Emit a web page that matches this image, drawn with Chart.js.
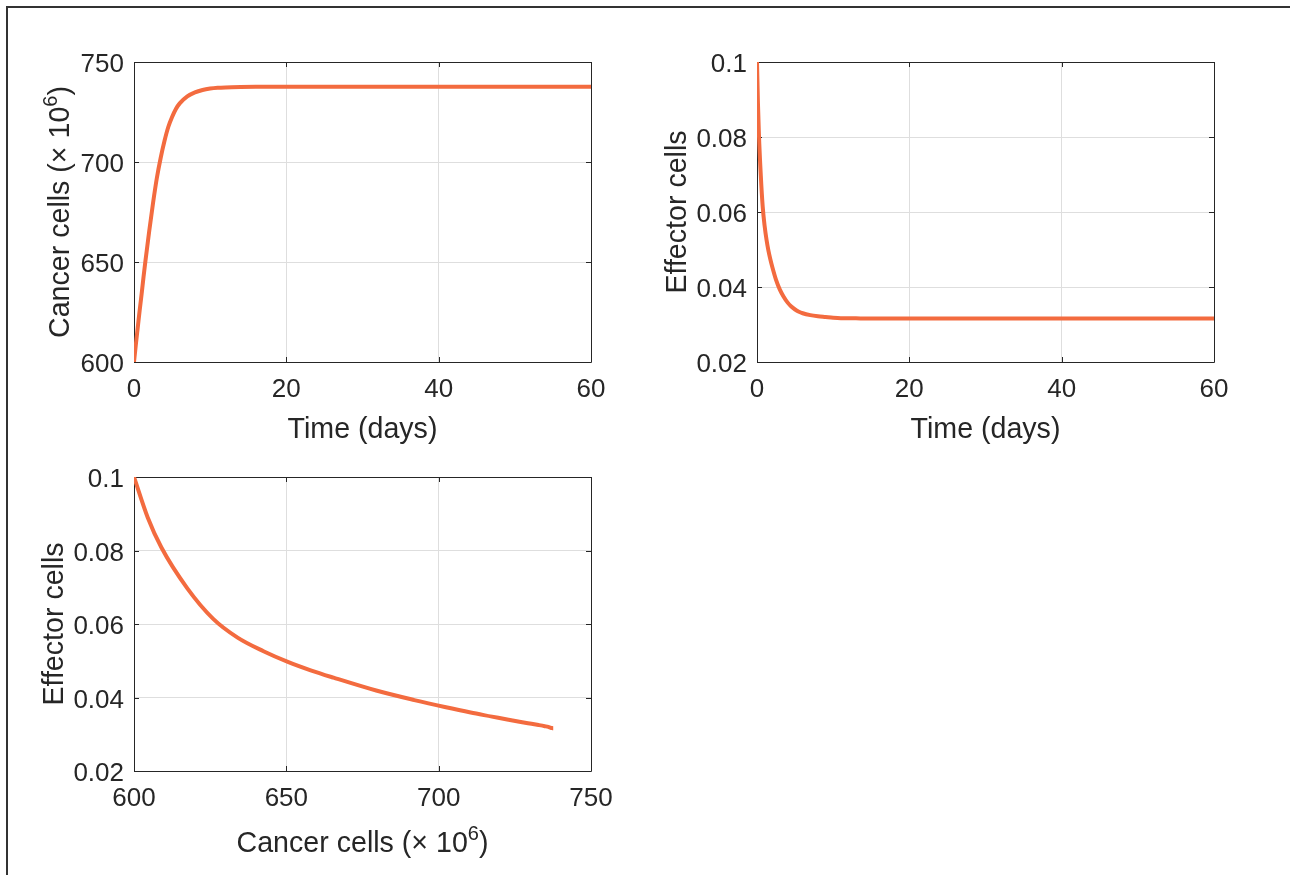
<!DOCTYPE html>
<html><head><meta charset="utf-8">
<script src="https://cdn.jsdelivr.net/npm/chart.js@4.4.1/dist/chart.umd.min.js"></script>
<style>
html,body{margin:0;padding:0;background:#fff;width:1290px;height:875px;overflow:hidden;}
#frame{position:absolute;left:6px;top:6px;width:1300px;height:900px;border-top:2px solid #333;border-left:2px solid #333;}
.box{position:absolute;}
canvas{display:block;}
</style></head><body>
<div id="frame"></div>
<div class="box" style="left:0;top:0;"><canvas id="c1" width="645" height="460"></canvas></div>
<div class="box" style="left:645px;top:0;"><canvas id="c2" width="645" height="460"></canvas></div>
<div class="box" style="left:0;top:460px;"><canvas id="c3" width="645" height="415"></canvas></div>
<script>
// ---- data ----
const days = [0,0.125,0.25,0.5,0.75,1,1.25,1.5,1.75,2,2.5,3,3.5,4,4.5,5,5.5,6,7,8,9,10,11,12,14,16,18,20,25,30,40,50,60];
const cancerCells = [600,604.5,609,617.5,626,634,642.5,650.5,658,665.5,679.5,692,702,710.5,717.5,722.5,726.5,729.3,732.8,734.8,736,736.7,737.1,737.3,737.5,737.6,737.6,737.6,737.6,737.6,737.6,737.6,737.6];
const effectorCells = [0.1,0.089,0.0808,0.0697,0.0614,0.0563,0.0526,0.0497,0.0474,0.0454,0.0419,0.0393,0.0374,0.0359,0.0348,0.0340,0.0334,0.0330,0.0325,0.0322,0.0320,0.0318,0.0317,0.0317,0.0316,0.0316,0.0316,0.0316,0.0316,0.0316,0.0316,0.0316,0.0316];
const timeTicks = [0,20,40,60];
const cancerTicks = [600,650,700,750];
const effectorTicks = [0.02,0.04,0.06,0.08,0.1];
const timeLabel = ['Time (days)'];
const cancerLabel = ['Cancer cells (\u00D7 10', '6', ')'];   // middle part is a superscript
const effectorLabel = ['Effector cells'];

const FONT = "'Liberation Sans', Arial, Helvetica, sans-serif";
Chart.defaults.font.family = FONT;
Chart.defaults.color = '#262626';

const LINE = 'rgb(243,107,63)';
const AX = '#262626';
const GRID = '#dedede';
const TICK_FONT = 26;
const LABEL_FONT = 28.6;
const SUP_FONT = 20;
const SUP_RAISE = 12;

const frameTicks = {
  id: 'frameTicks',
  beforeDatasetsDraw(chart) {
    const {ctx, chartArea: a, scales: {x, y}} = chart;
    const L = 5;
    ctx.save();
    ctx.strokeStyle = AX;
    ctx.lineWidth = 1;
    ctx.beginPath();
    x.ticks.forEach(t => {
      const p = Math.round(x.getPixelForValue(t.value)) + 0.5;
      ctx.moveTo(p, a.bottom); ctx.lineTo(p, a.bottom - L);
      ctx.moveTo(p, a.top); ctx.lineTo(p, a.top + L);
    });
    y.ticks.forEach(t => {
      const p = Math.round(y.getPixelForValue(t.value)) + 0.5;
      ctx.moveTo(a.left, p); ctx.lineTo(a.left + L, p);
      ctx.moveTo(a.right, p); ctx.lineTo(a.right - L, p);
    });
    ctx.stroke();
    ctx.beginPath();
    ctx.rect(Math.round(a.left) + 0.5, Math.round(a.top) + 0.5, Math.round(a.right - a.left), Math.round(a.bottom - a.top));
    ctx.stroke();
    ctx.restore();
  }
};

// axis titles with optional superscript part (parts: [normal, sup, normal])
function drawRich(ctx, parts, cx, cy, rot) {
  const main = LABEL_FONT + 'px ' + FONT, sup = SUP_FONT + 'px ' + FONT;
  const segs = parts.map((t, i) => ({t, f: i % 2 === 1 ? sup : main, up: i % 2 === 1 ? SUP_RAISE : 0}));
  let w = 0;
  segs.forEach(s => { ctx.font = s.f; s.w = ctx.measureText(s.t).width; w += s.w; });
  ctx.save();
  ctx.translate(cx, cy);
  ctx.rotate(rot);
  ctx.fillStyle = AX;
  ctx.textBaseline = 'alphabetic';
  ctx.textAlign = 'left';
  let x = -w / 2;
  const base = LABEL_FONT * 0.347;
  segs.forEach(s => { ctx.font = s.f; ctx.fillText(s.t, x, base - s.up); x += s.w; });
  ctx.restore();
}

const axisTitles = {
  id: 'axisTitles',
  afterDraw(chart, args, o) {
    const {ctx, chartArea: a} = chart;
    const lh = LABEL_FONT * 1.2;
    drawRich(ctx, o.xTitle, (a.left + a.right) / 2, chart.height - o.xTitlePad - lh / 2, 0);
    drawRich(ctx, o.yTitle, o.yTitlePad + lh / 2, (a.top + a.bottom) / 2, -Math.PI / 2);
  }
};

function fmt(v) { return String(+v.toFixed(2)); }

function makeChart(id, o) {
  const pts = o.xs.map((v, i) => ({x: v, y: o.ys[i]}));
  return new Chart(document.getElementById(id), {
    type: 'scatter',
    data: {datasets: [{
      data: pts, showLine: true, borderColor: LINE, backgroundColor: LINE,
      borderWidth: 4, pointRadius: 0, cubicInterpolationMode: 'monotone', fill: false
    }]},
    options: {
      responsive: false, animation: false, devicePixelRatio: 1,
      layout: {padding: {top: o.area.top, right: o.w - o.area.right, left: 0, bottom: 0}},
      plugins: {legend: {display: false}, tooltip: {enabled: false},
        axisTitles: {xTitle: o.xTitle, yTitle: o.yTitle, xTitlePad: o.xTitlePad, yTitlePad: o.yTitlePad}},
      scales: {
        x: {
          type: 'linear', min: o.xMin, max: o.xMax,
          afterBuildTicks: s => { s.ticks = o.xTicks.map(v => ({value: v})); },
          afterFit: s => { s.height = o.h - o.area.bottom; s.paddingLeft = 0; s.paddingRight = 0; },
          ticks: {font: {size: TICK_FONT}, color: AX, padding: 12, callback: fmt, maxRotation: 0, autoSkip: false},
          grid: {color: GRID, lineWidth: 1, drawTicks: false},
          border: {display: false},
          title: {display: false}
        },
        y: {
          type: 'linear', min: o.yMin, max: o.yMax,
          afterBuildTicks: s => { s.ticks = o.yTicks.map(v => ({value: v})); },
          afterFit: s => { s.width = o.area.left; s.paddingTop = 0; s.paddingBottom = 0; },
          ticks: {font: {size: TICK_FONT}, color: AX, padding: 10, callback: fmt, labelOffset: 3, autoSkip: false},
          grid: {color: GRID, lineWidth: 1, drawTicks: false},
          border: {display: false},
          title: {display: false}
        }
      }
    },
    plugins: [frameTicks, axisTitles]
  });
}

makeChart('c1', {xs: days, ys: cancerCells, xMin: 0, xMax: 60, xTicks: timeTicks,
  yMin: 600, yMax: 750, yTicks: cancerTicks, xTitle: timeLabel, yTitle: cancerLabel,
  w: 645, h: 460, area: {left: 134, top: 62, right: 591, bottom: 362}, xTitlePad: 15, yTitlePad: 42});

makeChart('c2', {xs: days, ys: effectorCells, xMin: 0, xMax: 60, xTicks: timeTicks,
  yMin: 0.02, yMax: 0.1, yTicks: effectorTicks, xTitle: timeLabel, yTitle: effectorLabel,
  w: 645, h: 460, area: {left: 112, top: 62, right: 569, bottom: 362}, xTitlePad: 15, yTitlePad: 14});

makeChart('c3', {xs: cancerCells, ys: effectorCells, xMin: 600, xMax: 750, xTicks: cancerTicks,
  yMin: 0.02, yMax: 0.1, yTicks: effectorTicks, xTitle: cancerLabel, yTitle: effectorLabel,
  w: 645, h: 415, area: {left: 134, top: 17, right: 591, bottom: 311}, xTitlePad: 16, yTitlePad: 36});
</script>
</body></html>
